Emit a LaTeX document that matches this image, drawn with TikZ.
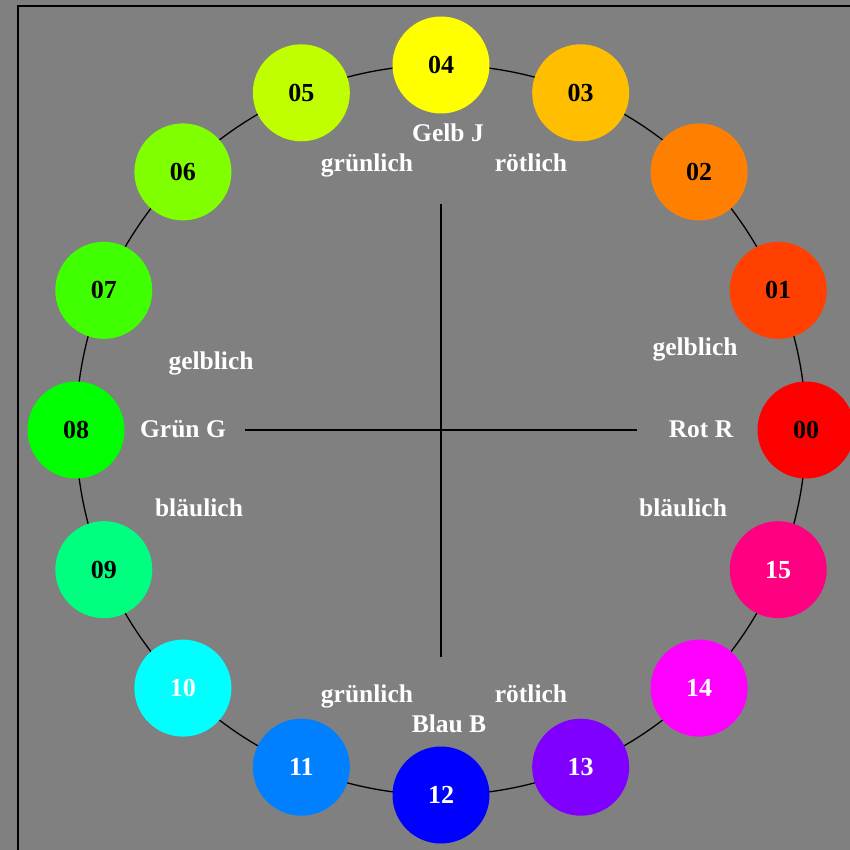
\documentclass[tikz,border=0pt]{standalone}
\usepackage{fontspec}
\setmainfont{Liberation Serif}
\usetikzlibrary{calc}
\begin{document}
\begin{tikzpicture}[x=1pt,y=-1pt,
  dot/.style={circle,minimum size=97pt,inner sep=0pt,font=\fontsize{26}{30}\selectfont\bfseries},
  lbl/.style={anchor=base,text=white,inner sep=0pt,font=\fontsize{25.5}{30}\selectfont\bfseries}]
\fill[gray] (0,0) rectangle (850,850);
\useasboundingbox (0,0) rectangle (850,850);
\draw[line width=2pt] (17.5,850) -- (17.5,6.5) -- (850,6.5);
\coordinate (c) at (441,430);
\draw[line width=1.3pt] (c) circle[radius=365];
\coordinate (h1) at (245,430); \coordinate (h2) at (637,430);
\coordinate (v1) at (441,204); \coordinate (v2) at (441,657);
\draw[line width=1.3pt] (h1) -- (h2);
\draw[line width=1.3pt] (v1) -- (v2);
\definecolor{c00}{HTML}{FF0000}\definecolor{c01}{HTML}{FF4000}
\definecolor{c02}{HTML}{FF8000}\definecolor{c03}{HTML}{FFBF00}
\definecolor{c04}{HTML}{FFFF00}\definecolor{c05}{HTML}{BFFF00}
\definecolor{c06}{HTML}{80FF00}\definecolor{c07}{HTML}{40FF00}
\definecolor{c08}{HTML}{00FF00}\definecolor{c09}{HTML}{00FF80}
\definecolor{c10}{HTML}{00FFFF}\definecolor{c11}{HTML}{0080FF}
\definecolor{c12}{HTML}{0000FF}\definecolor{c13}{HTML}{8000FF}
\definecolor{c14}{HTML}{FF00FF}\definecolor{c15}{HTML}{FF0080}
\foreach \n/\k/\t in {00/0/black,01/1/black,02/2/black,03/3/black,04/4/black,05/5/black,06/6/black,07/7/black,08/8/black,09/9/black,10/10/white,11/11/white,12/12/white,13/13/white,14/14/white,15/15/white}{
  \pgfmathsetmacro{\ang}{\k*22.5}
  \node[dot,fill=c\n,text=\t] (n\n) at ($(c)+({365*cos(\ang)},{-365*sin(\ang)})$) {\n};
}
\node[lbl] (gj) at (448,142) {Gelb J};
\node[lbl] (gr1) at (367,172) {grünlich};
\node[lbl] (ro1) at (531,172) {rötlich};
\node[lbl] (ge1) at (211,369) {gelblich};
\node[lbl] (gg) at (183,437) {Grün G};
\node[lbl] (bl1) at (199,516) {bläulich};
\node[lbl] (ge2) at (695,355) {gelblich};
\node[lbl] (rr) at (701,437) {Rot R};
\node[lbl] (bl2) at (683,516) {bläulich};
\node[lbl] (gr2) at (367,702) {grünlich};
\node[lbl] (ro2) at (531,702) {rötlich};
\node[lbl] (bb) at (449,732) {Blau B};
\end{tikzpicture}
\end{document}
